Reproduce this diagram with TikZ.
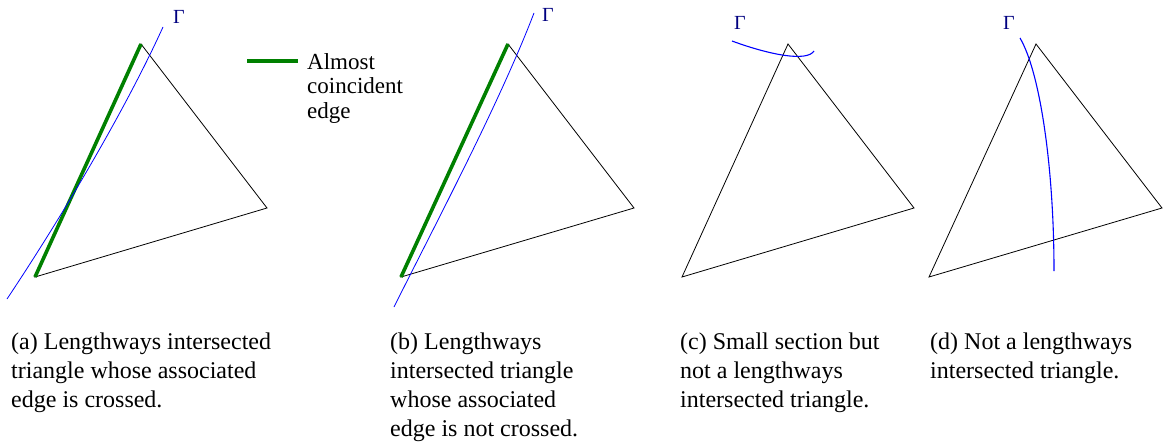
\documentclass[tikz,border=0pt]{standalone}
\usepackage{fontspec}
\setmainfont{Liberation Serif}
\usepackage{xcolor}
\usetikzlibrary{positioning}

\begin{document}
\begin{tikzpicture}[
    x=1pt, y=-1pt,
    tri/.style={draw=black, line width=0.8pt},
    coinc/.style={draw=green!50!black, line width=3.6pt},
    gam/.style={draw=blue, line width=0.8pt},
    gamlabel/.style={text=blue!50!black, inner sep=0pt, font=\fontsize{20}{22}\selectfont},
    keytext/.style={anchor=north west, align=left, inner sep=0pt, font=\fontsize{23}{24.5}\selectfont},
    caption/.style={anchor=north west, align=left, inner sep=0pt, font=\fontsize{24}{29}\selectfont}
]
    \useasboundingbox (0,0) rectangle (1170,447);

    % Triangle (a)
    \coordinate (a1) at (141,44);
    \coordinate (a2) at (267,208);
    \coordinate (a3) at (35,277);
    \draw[tri] (a1) -- (a2) -- (a3) -- cycle;
    \draw[coinc] (a3) -- (a1);
    \coordinate (ga1) at (7,299);
    \coordinate (ga2) at (163,27);
    \draw[gam] (ga1) .. controls (57,224) and (123,115) .. (ga2);
    \node[gamlabel] (gama) at (179,17) {Γ};

    % Legend
    \coordinate (keyl) at (247,61);
    \coordinate (keyr) at (298,61);
    \draw[coinc] (keyl) -- (keyr);
    \node[keytext] (key) at (307,53) {Almost\\coincident\\edge};

    % Triangle (b)
    \coordinate (b1) at (508,44);
    \coordinate (b2) at (634,208);
    \coordinate (b3) at (401,277);
    \draw[tri] (b1) -- (b2) -- (b3) -- cycle;
    \draw[coinc] (b3) -- (b1);
    \coordinate (gb1) at (394,307);
    \coordinate (gb2) at (534,13);
    \draw[gam] (gb1) .. controls (439,217) and (499,104) .. (gb2);
    \node[gamlabel] (gamb) at (548,15) {Γ};

    % Triangle (c)
    \coordinate (c1) at (788,44);
    \coordinate (c2) at (914,208);
    \coordinate (c3) at (682,277);
    \draw[tri] (c1) -- (c2) -- (c3) -- cycle;
    \coordinate (gc1) at (732,41);
    \coordinate (gc2) at (814,51);
    \draw[gam, line width=1.1pt] (gc1) .. controls (770,55) and (807,62) .. (gc2);
    \node[gamlabel] (gamc) at (740,23) {Γ};

    % Triangle (d)
    \coordinate (d1) at (1036,44);
    \coordinate (d2) at (1162,208);
    \coordinate (d3) at (929,277);
    \draw[tri] (d1) -- (d2) -- (d3) -- cycle;
    \coordinate (gd1) at (1020,38);
    \coordinate (gd2) at (1054,271);
    \draw[gam, line width=1.1pt] (gd1) .. controls (1040,72) and (1054,167) .. (gd2);
    \node[gamlabel] (gamd) at (1009,23) {Γ};

    % Captions
    \node[caption] (capa) at (11,333) {(a) Lengthways intersected\\triangle whose associated\\edge is crossed.};
    \node[caption] (capb) at (390,333) {(b) Lengthways\\intersected triangle\\whose associated\\edge is not crossed.};
    \node[caption] (capc) at (680,333) {(c) Small section but\\not a lengthways\\intersected triangle.};
    \node[caption] (capd) at (930,333) {(d) Not a lengthways\\intersected triangle.};

\end{tikzpicture}
\end{document}
